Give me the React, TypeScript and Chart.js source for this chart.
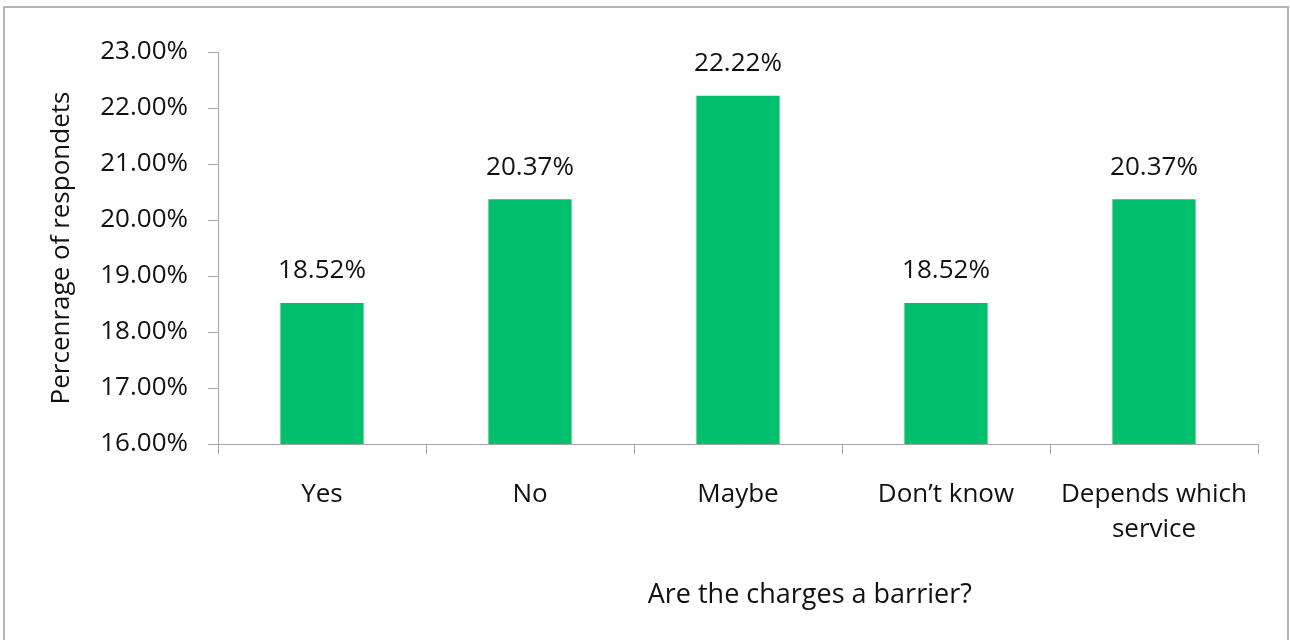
import React, { useEffect, useRef } from "react";
import { Chart, registerables } from "chart.js";

Chart.register(...registerables);

const categories: (string | string[])[] = ["Yes", "No", "Maybe", "Don\u2019t know", ["Depends which", "service"]];
const values: number[] = [18.52, 20.37, 22.22, 18.52, 20.37];
const yTicks: number[] = [16, 17, 18, 19, 20, 21, 22, 23];
const yTitle = "Percenrage of respondets";
const xTitle = "Are the charges a barrier?";

const FONT = "'Open Sans', sans-serif";
const BAR = "#00BF6F";
const AXIS = "#A6A6A6";
const TEXT = "#111111";

const framePlugin = {
  id: "frame",
  beforeDraw(chart: any) {
    const ctx = chart.ctx;
    ctx.save();
    ctx.fillStyle = "#ffffff";
    ctx.fillRect(0, 0, chart.width, chart.height);
    ctx.strokeStyle = "#B4B4B4";
    ctx.lineWidth = 2;
    ctx.strokeRect(4, 7, chart.width - 6, chart.height + 20);
    ctx.restore();
  },
};

const labelPlugin = {
  id: "valueLabels",
  afterDatasetsDraw(chart: any) {
    const ctx = chart.ctx;
    const meta = chart.getDatasetMeta(0);
    ctx.save();
    ctx.font = `26px ${FONT}`;
    ctx.fillStyle = TEXT;
    ctx.textAlign = "center";
    ctx.textBaseline = "middle";
    meta.data.forEach((bar: any, i: number) => {
      ctx.fillText(values[i].toFixed(2) + "%", bar.x, bar.y - 32);
    });
    ctx.restore();
  },
};

const xTitlePlugin = {
  id: "xTitle",
  afterDraw(chart: any) {
    const ctx = chart.ctx;
    const a = chart.chartArea;
    ctx.save();
    ctx.font = `27px ${FONT}`;
    ctx.fillStyle = TEXT;
    ctx.textAlign = "center";
    ctx.textBaseline = "middle";
    ctx.fillText(xTitle, a.left + (a.right - a.left) * 0.569, 595);
    ctx.restore();
  },
};

export default function App() {
  const ref = useRef<HTMLCanvasElement | null>(null);
  useEffect(() => {
    document.body.style.margin = "0";
    const canvas = ref.current;
    if (!canvas) return;
    const chart = new Chart(canvas, {
      type: "bar",
      data: {
        labels: categories,
        datasets: [
          {
            data: values,
            backgroundColor: BAR,
            borderWidth: 0,
            barPercentage: 0.4,
            categoryPercentage: 1,
          },
        ],
      },
      options: {
        animation: false,
        responsive: false,
        devicePixelRatio: 1,
        layout: { padding: { left: 40, top: 52, right: 32, bottom: 0 } },
        plugins: {
          legend: { display: false },
          tooltip: { enabled: false },
        },
        scales: {
          x: {
            grid: {
              display: true,
              drawOnChartArea: false,
              drawTicks: true,
              tickLength: 10,
              color: AXIS,
              offset: true,
            },
            border: { display: true, color: AXIS, width: 1 },
            ticks: {
              color: TEXT,
              font: { family: FONT, size: 26, lineHeight: 1.35 },
              padding: 23,
              maxRotation: 0,
              autoSkip: false,
            },
            afterFit: (s: any) => {
              s.height = 640 - 444;
            },
          },
          y: {
            min: 16,
            max: 23,
            afterBuildTicks: (s: any) => {
              s.ticks = yTicks.map((v) => ({ value: v }));
            },
            grid: {
              display: true,
              drawOnChartArea: false,
              drawTicks: true,
              tickLength: 10,
              color: AXIS,
            },
            border: { display: true, color: AXIS, width: 1 },
            ticks: {
              color: TEXT,
              font: { family: FONT, size: 26 },
              padding: 20,
              callback: (v: any) => Number(v).toFixed(2) + "%",
            },
            title: {
              display: true,
              text: yTitle,
              color: TEXT,
              font: { family: FONT, size: 26 },
              padding: { top: 6, bottom: 0 },
            },
            afterFit: (s: any) => {
              s.width = 218 - 40;
            },
          },
        },
      },
      plugins: [framePlugin, labelPlugin, xTitlePlugin],
    } as any);
    return () => chart.destroy();
  }, []);
  return (
    <div style={{ width: 1290, height: 640 }}>
      <canvas ref={ref} width={1290} height={640} style={{ display: "block" }} />
    </div>
  );
}
